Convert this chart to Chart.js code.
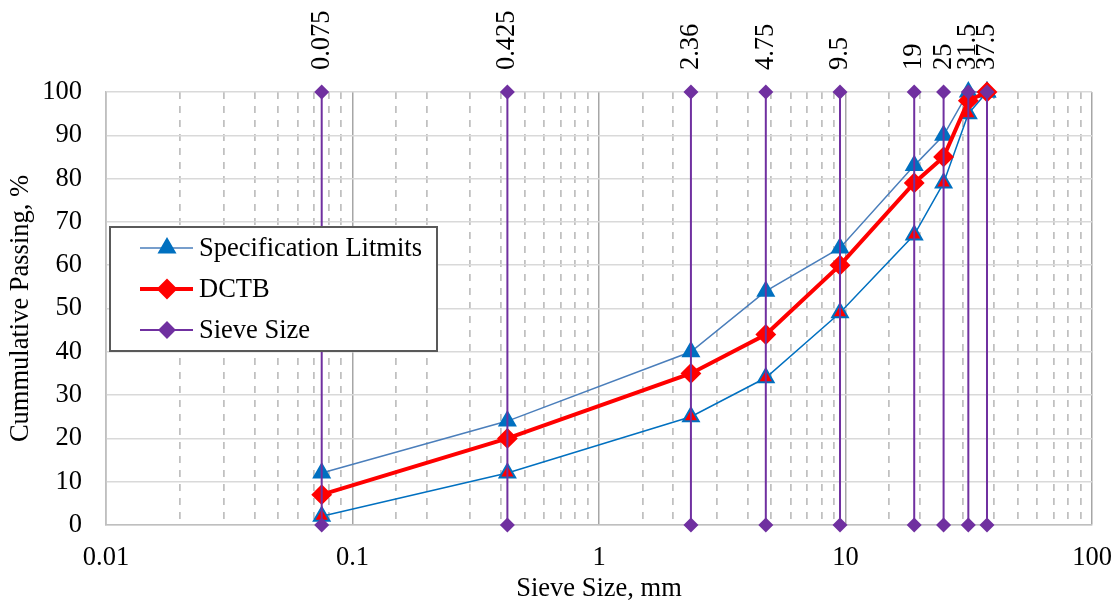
<!DOCTYPE html>
<html>
<head>
<meta charset="utf-8">
<script src="https://cdn.jsdelivr.net/npm/chart.js@4.4.0/dist/chart.umd.min.js"></script>
<style>
body { margin: 0; background: #fff; }
#wrap { width: 1119px; height: 602px; }
</style>
</head>
<body>
<div id="wrap"><canvas id="grading" width="1119" height="602"></canvas></div>
<script>
// Tamices y curvas granulométricas
const sieveSizes = [0.075, 0.425, 2.36, 4.75, 9.5, 19, 25, 31.5, 37.5];
const sieveLabels = ['0.075', '0.425', '2.36', '4.75', '9.5', '19', '25', '31.5', '37.5'];
const specUpper = [12, 24, 40, 54, 64, 83, 90, 100, 100];
const specLower = [2, 12, 25, 34, 49, 67, 79, 95, 100];
const dctb = [7, 20, 35, 44, 60, 79, 85, 98, 100];
const yMin = 0, yMax = 100, yStep = 10;
const xMin = 0.01, xMax = 100;

const FONT = 'Liberation Serif, Times New Roman, serif';
const FS = 26.5;
Chart.defaults.font.family = FONT;
Chart.defaults.font.size = FS;
Chart.defaults.color = '#000';

const isDecade = v => Math.abs(Math.log10(v) - Math.round(Math.log10(v))) < 1e-6;
const pts = arr => sieveSizes.map((s, i) => ({ x: s, y: arr[i] }));
// cada tamiz es una línea vertical de 0 a 100 (null corta la línea)
const sieveLines = sieveSizes.flatMap(s => [{ x: s, y: yMin }, { x: s, y: yMax }, { x: s, y: null }]);

const legendItems = [
  { label: 'Specification Litmits', line: '#4A7EBB', width: 1.5, style: 'triangle', fill: '#0070C0', border: '#0070C0', radius: 9 },
  { label: 'DCTB', line: '#FF0000', width: 4, style: 'rectRot', fill: '#FF0000', border: '#FF0000', radius: 9 },
  { label: 'Sieve Size', line: '#7030A0', width: 2, style: 'rectRot', fill: '#7030A0', border: '#7030A0', radius: 7.5 }
];

// Etiquetas de tamiz arriba del gráfico
const topLabels = {
  id: 'topLabels',
  afterDatasetsDraw(chart) {
    const ctx = chart.ctx;
    const x = chart.scales.x;
    ctx.save();
    ctx.font = FS + 'px ' + FONT;
    ctx.fillStyle = '#000';
    ctx.textAlign = 'left';
    ctx.textBaseline = 'middle';
    sieveSizes.forEach((s, i) => {
      ctx.save();
      ctx.translate(x.getPixelForValue(s), chart.chartArea.top - 22);
      ctx.rotate(-Math.PI / 2);
      ctx.fillText(sieveLabels[i], 0, 0);
      ctx.restore();
    });
    ctx.restore();
  }
};

// Leyenda con recuadro dentro del área del gráfico
const boxLegend = {
  id: 'boxLegend',
  afterDraw(chart) {
    const ctx = chart.ctx;
    const left = chart.chartArea.left + 4, top = 227, w = 327, h = 124;
    ctx.save();
    ctx.fillStyle = '#fff';
    ctx.fillRect(left, top, w, h);
    ctx.strokeStyle = '#595959';
    ctx.lineWidth = 2;
    ctx.strokeRect(left, top, w, h);
    ctx.font = FS + 'px ' + FONT;
    ctx.textBaseline = 'middle';
    ctx.textAlign = 'left';
    legendItems.forEach((it, i) => {
      const y = top + 21 + i * 41;
      ctx.strokeStyle = it.line;
      ctx.lineWidth = it.width;
      ctx.beginPath();
      ctx.moveTo(left + 30, y);
      ctx.lineTo(left + 83, y);
      ctx.stroke();
      ctx.fillStyle = it.fill;
      ctx.strokeStyle = it.border;
      ctx.lineWidth = 2;
      Chart.helpers.drawPoint(ctx, { pointStyle: it.style, radius: it.radius, borderWidth: 2, rotation: 0 }, left + 57, y);
      ctx.fillStyle = '#000';
      ctx.fillText(it.label, left + 89, y + 1);
    });
    ctx.restore();
  }
};

new Chart(document.getElementById('grading'), {
  type: 'line',
  data: {
    datasets: [
      {
        label: 'Sieve Size',
        data: sieveLines,
        borderColor: '#7030A0',
        backgroundColor: '#7030A0',
        borderWidth: 2,
        pointStyle: 'rectRot',
        pointRadius: 7.5,
        pointBorderWidth: 0,
        order: 0
      },
      {
        label: 'DCTB',
        data: pts(dctb),
        borderColor: '#FF0000',
        backgroundColor: '#FF0000',
        borderWidth: 4,
        pointStyle: 'rectRot',
        pointRadius: 9,
        pointBorderWidth: 2,
        order: 1
      },
      {
        label: 'Specification Litmits',
        data: pts(specUpper),
        borderColor: '#4A7EBB',
        pointBorderColor: '#0070C0',
        pointBackgroundColor: '#0070C0',
        borderWidth: 1.5,
        pointStyle: 'triangle',
        pointRadius: 9,
        pointBorderWidth: 2,
        order: 2
      },
      {
        label: 'Lower',
        data: pts(specLower),
        borderColor: '#0070C0',
        pointBorderColor: '#0070C0',
        pointBackgroundColor: '#FF0000',
        borderWidth: 1.5,
        pointStyle: 'triangle',
        pointRadius: 9,
        pointBorderWidth: 2,
        order: 3
      }
    ]
  },
  options: {
    responsive: false,
    animation: false,
    devicePixelRatio: 1,
    clip: false,
    layout: { padding: { left: 0, right: 27, top: 92, bottom: 0 } },
    plugins: {
      legend: { display: false },
      tooltip: { enabled: false }
    },
    scales: {
      x: {
        type: 'logarithmic',
        min: xMin,
        max: xMax,
        afterFit: s => { s.height = 77; s.paddingLeft = 0; s.paddingRight = 0; },
        ticks: {
          autoSkip: false,
          maxRotation: 0,
          padding: 17,
          callback: v => isDecade(v) ? String(Number(v.toPrecision(1))) : ''
        },
        grid: {
          drawTicks: false,
          lineWidth: 1.5,
          color: c => (c.tick && isDecade(c.tick.value)) ? '#a6a6a6' : 'rgba(0,0,0,0)'
        },
        border: { color: '#bfbfbf', width: 1.5 },
        title: { display: true, text: 'Sieve Size, mm', font: { size: FS, lineHeight: 1 }, padding: 0 }
      },
      x2: {
        type: 'logarithmic',
        position: 'bottom',
        min: xMin,
        max: xMax,
        afterFit: s => { s.height = 0; s.paddingLeft = 0; s.paddingRight = 0; },
        ticks: { display: false, autoSkip: false },
        grid: {
          drawTicks: false,
          lineWidth: 1.75,
          color: c => (c.tick && isDecade(c.tick.value)) ? 'rgba(0,0,0,0)' : '#c0c0c0'
        },
        border: { display: false, dash: [7, 7] }
      },
      y: {
        min: yMin,
        max: yMax,
        afterFit: s => { s.width = 106; },
        ticks: { stepSize: yStep, padding: 24 },
        grid: { drawTicks: false, color: '#d9d9d9', lineWidth: 1.5 },
        border: { color: '#bfbfbf', width: 1.5 },
        title: { display: true, text: 'Cummulative Passing, %', font: { size: FS, lineHeight: 1 }, padding: { top: 8, bottom: 0 } }
      }
    }
  },
  plugins: [topLabels, boxLegend]
});
</script>
</body>
</html>
